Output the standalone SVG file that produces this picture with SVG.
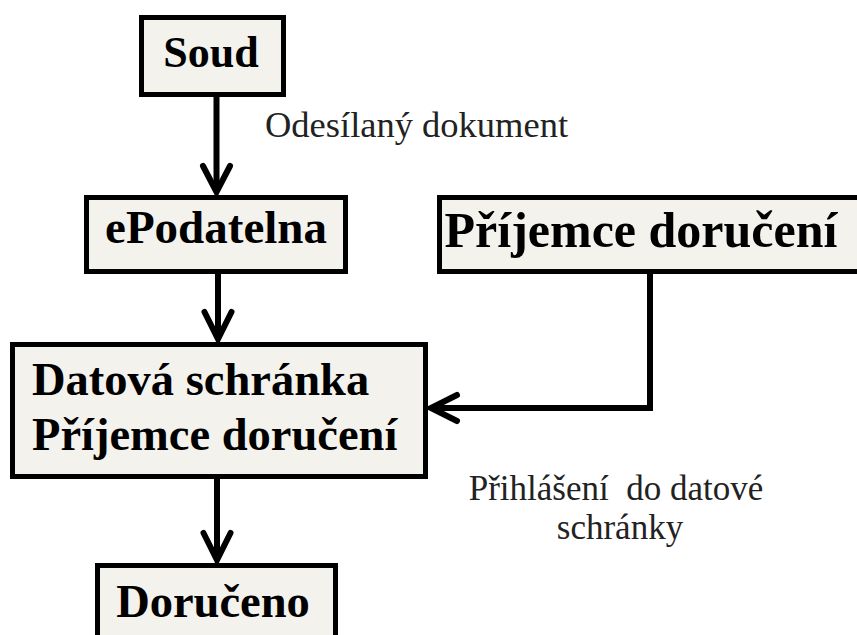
<svg xmlns="http://www.w3.org/2000/svg" width="857" height="635" viewBox="0 0 857 635">
<style>
.box{fill:#f3f2ec;stroke:#000;stroke-width:5}
.t{font-family:'Liberation Serif','DejaVu Serif',serif;font-weight:bold;fill:#000}
.lbl{font-family:'Liberation Serif','DejaVu Serif',serif;fill:#222;white-space:pre}
.c{fill:none;stroke:#000;stroke-width:6}
.ah{fill:none;stroke:#000;stroke-width:6;stroke-linecap:round;stroke-linejoin:miter}
</style>
<rect width="857" height="635" fill="#fff"/>
<g id="connectors">
<path class="c" d="M216.5,97 V192"/>
<path class="ah" d="M203,166 L216.5,192 L230,166"/>
<path class="c" d="M218,273 V339"/>
<path class="ah" d="M204.5,312 L218,339 L231.5,312"/>
<path class="c" d="M217,478 V560"/>
<path class="ah" d="M203.5,533 L217,560 L230.5,533"/>
<path class="c" d="M650,273 V408 H431"/>
<path class="ah" d="M457,395 L431,408 L457,421"/>
</g>
<g id="soud">
<rect class="box" x="141.5" y="17.5" width="142" height="77"/>
<text class="t" x="211" y="67" font-size="44" text-anchor="middle">Soud</text>
</g>
<g id="epodatelna">
<rect class="box" x="86.5" y="197.5" width="259" height="74"/>
<text class="t" x="216" y="243" font-size="47" text-anchor="middle">ePodatelna</text>
</g>
<g id="prijemce">
<rect class="box" x="439.5" y="197.5" width="430" height="74"/>
<text class="t" x="641" y="247" font-size="50" text-anchor="middle">Příjemce doručení</text>
</g>
<g id="datova">
<rect class="box" x="12.5" y="344.5" width="413" height="132"/>
<text class="t" x="32" y="395" font-size="46.5">Datová schránka</text>
<text class="t" x="32" y="450" font-size="46.5">Příjemce doručení</text>
</g>
<g id="doruceno">
<rect class="box" x="97.5" y="565.5" width="238" height="90"/>
<text class="t" x="213" y="617" font-size="46.5" text-anchor="middle">Doručeno</text>
</g>
<g id="labels">
<text class="lbl" x="265" y="137" font-size="36.5">Odesílaný dokument</text>
<text class="lbl" x="616" y="500" font-size="35" text-anchor="middle">Přihlášení  do datové</text>
<text class="lbl" x="620" y="539" font-size="35" text-anchor="middle">schránky</text>
</g>
</svg>
